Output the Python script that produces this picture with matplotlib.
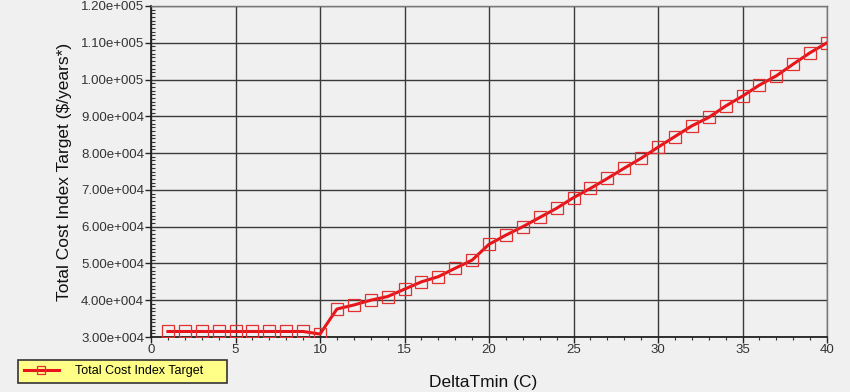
import matplotlib
matplotlib.use("Agg")
import matplotlib.pyplot as plt
from matplotlib.ticker import MultipleLocator, FuncFormatter

plt.rcParams['font.family'] = ['Liberation Sans', 'DejaVu Sans']

delta_tmin = list(range(1, 41))
cost = [31500, 31500, 31500, 31500, 31500, 31500, 31500, 31500, 31500, 30800,
        37600, 38700, 40000, 41000, 43000, 45000, 46400, 48700, 50900, 55200,
        57700, 60000, 62500, 65000, 67900, 70400, 73100, 75900, 78600, 81600,
        84500, 87400, 89700, 92800, 95500, 98500, 101000, 104200, 107300, 110000]
series_name = "Total Cost Index Target"
x_label = "DeltaTmin (C)"
y_label = "Total Cost Index Target ($/years*)"

bg = '#f0f0f0'
fig = plt.figure(figsize=(8.5, 3.92), dpi=100, facecolor=bg)
ax = fig.add_axes([151/850, 1-337/392, (827-151)/850, (337-6)/392])
ax.set_facecolor(bg)

line, = ax.plot(delta_tmin, cost, color='#e8141a', lw=2.2, marker='s', ms=8.5,
                mfc='none', mec='#e03030', mew=0.9, label=series_name, zorder=3)

ax.set_xlim(0, 40)
ax.set_ylim(30000, 120000)
ax.xaxis.set_major_locator(MultipleLocator(5))
ax.xaxis.set_minor_locator(MultipleLocator(1))
ax.yaxis.set_major_locator(MultipleLocator(10000))
ax.yaxis.set_minor_locator(MultipleLocator(1000))

def sci(v, pos):
    e = 4 if v < 100000 else 5
    m = v / 10**e
    return f"{m:.2f}e+{e:03d}"
ax.yaxis.set_major_formatter(FuncFormatter(sci))

ax.grid(True, which='major', color='#3a3a3a', lw=1.0)
ax.tick_params(axis='both', which='major', direction='out', length=4, width=1,
               labelsize=9.5, colors='#222222', labelcolor='#333333', pad=1)
ax.tick_params(axis='y', which='minor', direction='in', length=3, width=0.8, colors='#333333')
ax.tick_params(axis='x', which='minor', direction='out', length=2, width=0.8, colors='#333333')

for s in ['top', 'right']:
    ax.spines[s].set_color('#777777')
    ax.spines[s].set_linewidth(1)
for s in ['left', 'bottom']:
    ax.spines[s].set_color('#222222')
    ax.spines[s].set_linewidth(1.3)

ax.set_ylabel(y_label, fontsize=12.5, color='#111111', labelpad=6)
ax.set_xlabel(x_label, fontsize=12.5, color='#111111')
ax.xaxis.set_label_coords((483-151)/(827-151), -(382-337)/331)
ax.xaxis.label.set_verticalalignment('center')

leg = fig.legend(handles=[line], loc='lower left',
                 bbox_to_anchor=(18/850, 1-383/392, (227-18)/850, (383-356)/392),
                 mode='expand', frameon=True, fancybox=False, fontsize=9,
                 handlelength=2.8, borderpad=0.45, handletextpad=1.3,
                 markerscale=0.75, borderaxespad=0)
leg.get_frame().set_facecolor('#ffff88')
leg.get_frame().set_edgecolor('#333333')
leg.get_frame().set_linewidth(1.2)
leg.get_frame().set_alpha(1)

fig.savefig('out.png', dpi=100, facecolor=bg)
